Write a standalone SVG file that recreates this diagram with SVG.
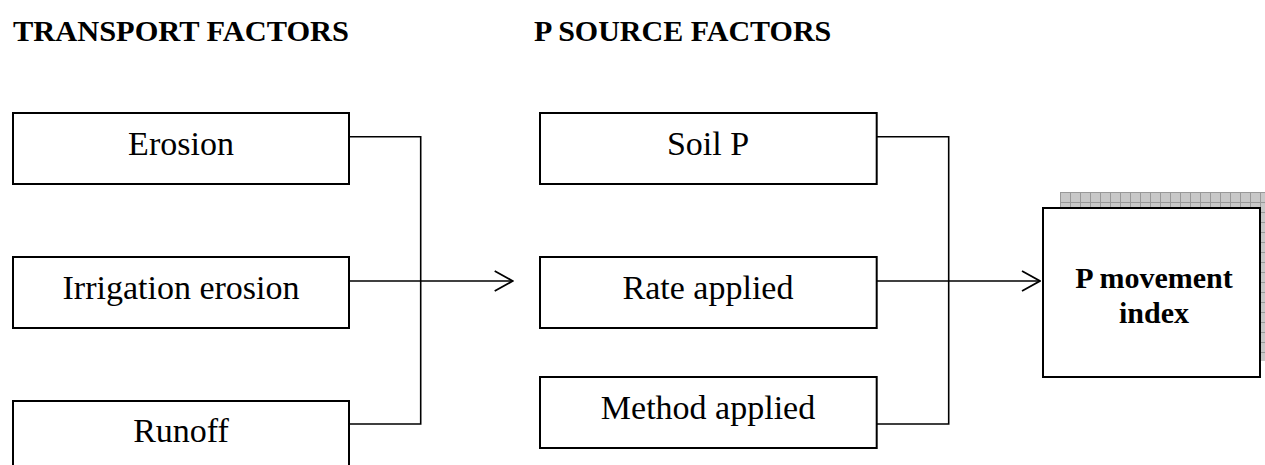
<svg xmlns="http://www.w3.org/2000/svg" width="1265" height="465" viewBox="0 0 1265 465">
  <style>
    .box { fill: #ffffff; stroke: #000000; stroke-width: 2; }
    .lbl { font-family: "Liberation Serif", "Times New Roman", serif; font-size: 34px; fill: #000000; text-anchor: middle; }
    .hdr { font-family: "Liberation Serif", "Times New Roman", serif; font-size: 30px; font-weight: bold; fill: #000000; }
    .bold { font-family: "Liberation Serif", "Times New Roman", serif; font-size: 30px; font-weight: bold; fill: #000000; text-anchor: middle; }
    .wire { fill: none; stroke: #000000; stroke-width: 1.6; }
  </style>
  <defs>
    <marker id="open" viewBox="0 0 20 22" refX="19" refY="11" markerWidth="20" markerHeight="22" markerUnits="userSpaceOnUse" orient="auto">
      <path d="M1,1 L19,11 L1,21" fill="none" stroke="#000000" stroke-width="1.8"/>
    </marker>
    <pattern id="grid" width="10" height="10" patternUnits="userSpaceOnUse" x="1060" y="192">
      <rect width="10" height="10" fill="#c8c8c8"/>
      <path d="M0,0.5 H10 M0.5,0 V10" stroke="#999999" stroke-width="1"/>
    </pattern>
  </defs>

  <rect width="1265" height="465" fill="#ffffff"/>

  <g id="headers">
    <text class="hdr" x="13" y="41" textLength="336" lengthAdjust="spacingAndGlyphs">TRANSPORT FACTORS</text>
    <text class="hdr" x="534" y="41">P SOURCE FACTORS</text>
  </g>

  <g id="connectors">
    <polyline class="wire" points="349,136.7 420.7,136.7 420.7,424 349,424"/>
    <line class="wire" x1="349" y1="281" x2="512.7" y2="281" marker-end="url(#open)"/>
    <polyline class="wire" points="876.7,136.7 948.7,136.7 948.7,424 876.7,424"/>
    <line class="wire" x1="876.7" y1="281" x2="1040" y2="281" marker-end="url(#open)"/>
  </g>

  <g id="erosion">
    <rect class="box" x="13" y="113" width="336" height="71"/>
    <text class="lbl" x="181" y="155">Erosion</text>
  </g>
  <g id="irrigation-erosion">
    <rect class="box" x="13" y="257" width="336" height="71"/>
    <text class="lbl" x="181" y="299">Irrigation erosion</text>
  </g>
  <g id="runoff">
    <rect class="box" x="13" y="401" width="336" height="71"/>
    <text class="lbl" x="181" y="442">Runoff</text>
  </g>

  <g id="soil-p">
    <rect class="box" x="540" y="113" width="336.7" height="71"/>
    <text class="lbl" x="708" y="155">Soil P</text>
  </g>
  <g id="rate-applied">
    <rect class="box" x="540" y="257" width="336.7" height="71"/>
    <text class="lbl" x="708" y="299">Rate applied</text>
  </g>
  <g id="method-applied">
    <rect class="box" x="540" y="377" width="336.7" height="71"/>
    <text class="lbl" x="708" y="419">Method applied</text>
  </g>

  <g id="p-movement-index">
    <rect x="1060" y="192" width="217" height="169" fill="url(#grid)"/>
    <rect class="box" x="1043" y="208" width="217" height="169"/>
    <text class="bold" x="1154" y="288">P movement</text>
    <text class="bold" x="1154" y="323">index</text>
  </g>
</svg>
